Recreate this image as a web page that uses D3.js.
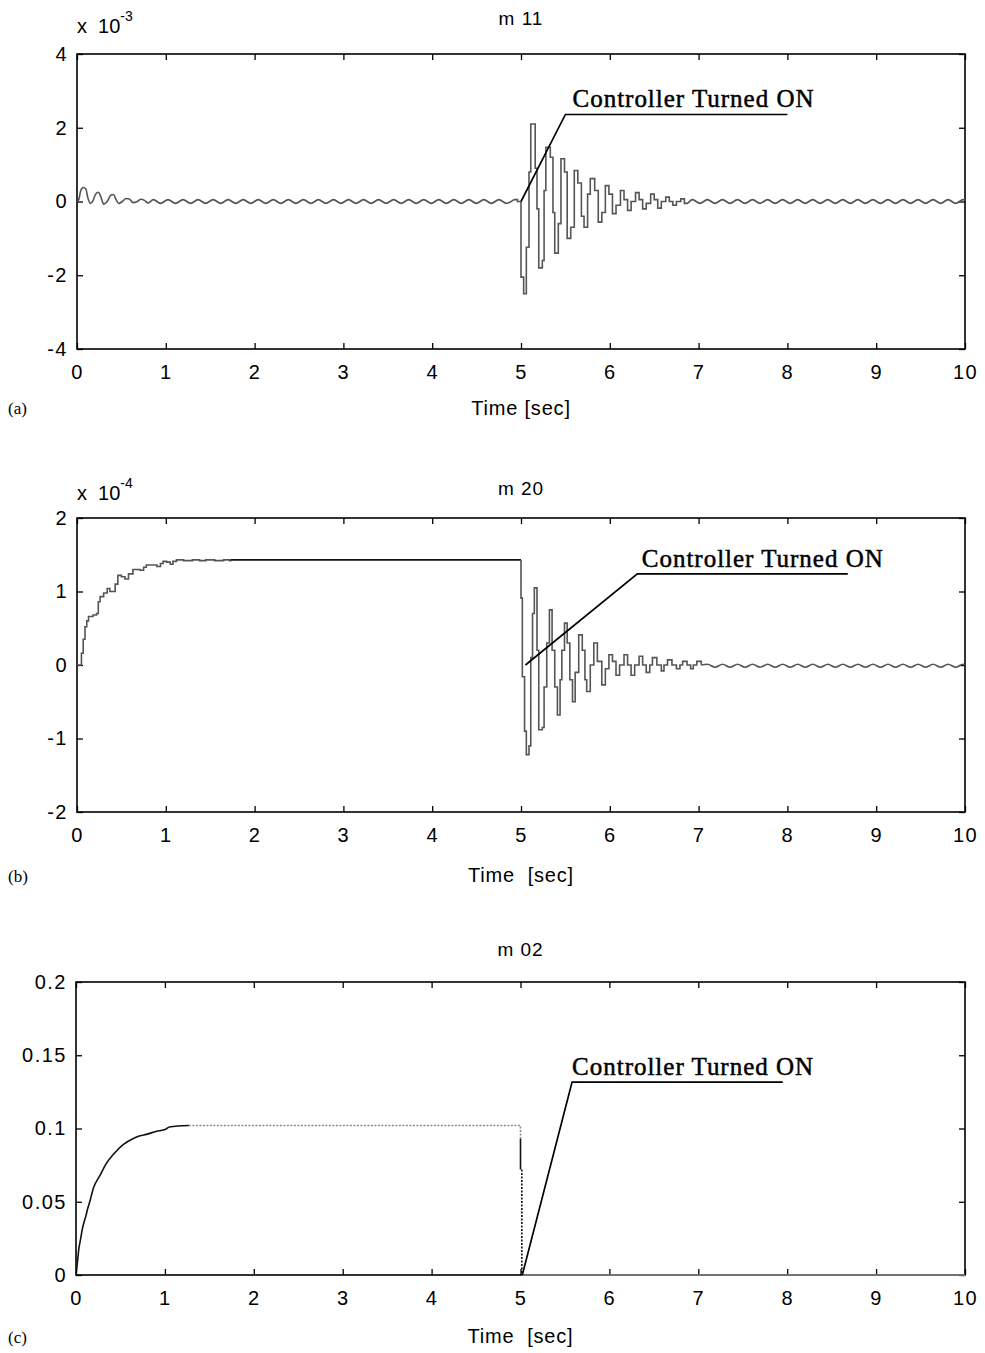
<!DOCTYPE html>
<html>
<head>
<meta charset="utf-8">
<script src="https://cdn.jsdelivr.net/npm/d3@7"></script>
<style>
body { margin: 0; background: #fff; }
text { font-family: "Liberation Sans", Arial, sans-serif; fill: #000; }
.serif { font-family: "Liberation Serif", "Times New Roman", serif; }
</style>
</head>
<body>
<svg id="chart" width="985" height="1353"></svg>
<script>
// tick values
var timeTicks = [0, 1, 2, 3, 4, 5, 6, 7, 8, 9, 10];
var m11Ticks = [-4, -2, 0, 2, 4];
var m20Ticks = [-2, -1, 0, 1, 2];
var m02Ticks = [0, 0.05, 0.1, 0.15, 0.2];
var m02TickLabels = ['0', '0.05', '0.1', '0.15', '0.2'];

// half period of the small ripple, seconds
var rippleStep = 0.0847;

// m11, units of 1e-3
var m11Start = [[0,0],[0.02,0.05],[0.04,0.28],[0.07,0.38],[0.1,0.34],[0.12,0.12],[0.15,-0.05],[0.18,0.02],
  [0.21,0.2],[0.24,0.25],[0.27,0.12],[0.3,-0.07],[0.34,0],[0.38,0.17],[0.41,0.19],[0.44,0.05],[0.47,-0.05],
  [0.51,0],[0.55,0.08],[0.59,0.07],[0.63,-0.03],[0.68,0],[0.72,0.06],[0.76,0.03],[0.8,-0.04],[0.86,0.05]];
var m11RippleBefore = [-0.05,0.05,-0.05,0.05,-0.05,0.05,-0.05,0.05,-0.05,0.05,-0.05,0.05,-0.05,0.05,-0.05,0.05,
  -0.05,0.05,-0.05,0.05,-0.05,0.05,-0.05,0.05,-0.05,0.05,-0.05,0.05,-0.05,0.05,-0.05,0.05,-0.05,0.05,-0.05,0.05,
  -0.05,0.05,-0.05,0.05,-0.05,0.05,-0.05,0.05,-0.05,0.05,-0.05,0.05];
var m11Burst = [[4.92,0.05],[4.96,0],[5,-2.05],[5.03,-2.5],[5.06,-1.24],[5.09,0.8],[5.11,2.1],[5.16,0.9],
  [5.18,-0.2],[5.2,-1.8],[5.24,-1.6],[5.26,0.3],[5.28,1.47],[5.33,1.2],[5.36,-0.3],[5.38,-1.4],[5.42,-0.6],
  [5.45,1.16],[5.49,0.8],[5.52,-1],[5.56,-0.7],[5.6,0.84],[5.64,0.5],[5.68,-0.4],[5.71,-0.7],[5.75,0.2],
  [5.78,0.62],[5.83,0.3],[5.87,-0.56],[5.91,-0.3],[5.95,0.43],[5.99,0.2],[6.03,-0.33],[6.07,-0.1],[6.12,0.3],
  [6.16,0.05],[6.2,-0.24],[6.24,0],[6.29,0.24],[6.33,0.05],[6.37,-0.2],[6.41,-0.05],[6.46,0.2],[6.5,0.05],
  [6.54,-0.18],[6.58,0],[6.63,0.12],[6.67,0],[6.71,-0.1],[6.75,0],[6.8,0.07],[6.84,-0.05],[6.88,-0.05]];
var m11RippleAfter = [0.05,-0.05,0.05,-0.05,0.05,-0.05,0.05,-0.05,0.05,-0.05,0.05,-0.05,0.05,-0.05,0.05,-0.05,
  0.05,-0.05,0.05,-0.05,0.05,-0.05,0.05,-0.05,0.05,-0.05,0.05,-0.05,0.05,-0.05,0.05,-0.05,0.05,-0.05,0.05,-0.05,
  0.05,-0.05];

// m20, units of 1e-4
var m20Rise = [[0,0],[0.03,0],[0.05,0.16],[0.07,0.35],[0.09,0.52],[0.11,0.6],[0.13,0.66],[0.18,0.68],[0.22,0.7],
  [0.24,0.86],[0.26,0.93],[0.3,0.98],[0.34,1.04],[0.37,1],[0.4,1],[0.43,1.1],[0.46,1.22],[0.5,1.2],[0.54,1.17],
  [0.58,1.24],[0.63,1.3],[0.67,1.3],[0.71,1.29],[0.75,1.33],[0.78,1.36],[0.84,1.36],[0.9,1.34],[0.94,1.38],
  [0.97,1.41],[1.01,1.4],[1.05,1.37],[1.08,1.41],[1.12,1.43],[1.2,1.42],[1.3,1.43],[1.38,1.42],[1.45,1.43],
  [1.55,1.42],[1.65,1.43],[1.72,1.42],[1.73,1.43]];
var m20Flat = [[1.73,1.43],[5,1.43]];
var m20Burst = [[5,1.43],[5,0.91],[5.015,-0.16],[5.04,-0.9],[5.06,-1.22],[5.09,-1.1],[5.11,0.1],[5.13,0.7],
  [5.15,1.05],[5.18,0.2],[5.2,-0.88],[5.24,-0.85],[5.26,-0.3],[5.29,0.3],[5.32,0.75],[5.35,0.2],[5.38,-0.3],
  [5.41,-0.68],[5.44,-0.2],[5.46,0.2],[5.49,0.57],[5.52,0.3],[5.55,-0.2],[5.58,-0.5],[5.61,-0.1],[5.65,0.41],
  [5.69,0.2],[5.72,-0.2],[5.74,-0.36],[5.78,0],[5.82,0.3],[5.86,0.05],[5.91,-0.27],[5.95,-0.05],[5.99,0.14],
  [6.03,0.05],[6.07,-0.14],[6.11,0],[6.16,0.14],[6.2,0],[6.24,-0.14],[6.28,0],[6.33,0.12],[6.37,0],[6.41,-0.1],
  [6.45,0],[6.48,0.1],[6.53,0],[6.58,-0.08],[6.61,0],[6.65,0.07],[6.7,0],[6.75,-0.05],[6.79,0],[6.82,0.05],
  [6.87,0],[6.91,-0.05],[6.94,0],[6.98,0.05],[7.03,0]];
var m20RippleAfter = [0.01,-0.03,0.01,-0.03,0.01,-0.03,0.01,-0.03,0.01,-0.03,0.01,-0.03,0.01,-0.03,0.01,-0.03,
  0.01,-0.03,0.01,-0.03,0.01,-0.03,0.01,-0.03,0.01,-0.03,0.01,-0.03,0.01,-0.03,0.01,-0.03,0.01,-0.03,0.01,-0.03];

// m02
var m02Rise = [[0,0],[0.015,0.008],[0.03,0.017],[0.05,0.024],[0.07,0.031],[0.09,0.036],[0.11,0.04],[0.13,0.045],
  [0.15,0.049],[0.2,0.06],[0.27,0.068],[0.34,0.076],[0.43,0.083],[0.53,0.089],[0.64,0.093],[0.72,0.095],
  [0.79,0.096],[0.9,0.098],[1.01,0.0995],[1.05,0.101],[1.27,0.102]];
var m02Hold = [[1.27,0.102],[5,0.102],[5,0.093]];
var m02Drop = [[5,0.093],[5,0.072]];
var m02Fall = [[5.015,0.072],[5.015,0]];
var m02Zero = [[5.015,0],[10,0]];

function ripple(values, t0) {
  return values.map(function(v, i) { return [t0 + i * rippleStep, v]; });
}

var GRAY = '#555', LIGHT = '#8a8a8a', DARK = '#111';

var panels = [
  {
    title: 'm 11', tag: '(a)', exponent: '-3', xlabel: 'Time [sec]',
    left: 77, right: 965, top: 54, bottom: 349,
    yDomain: [-4, 4], yTicks: m11Ticks,
    titleY: 25, expY: 33, xlabelY: 415, tagY: 414,
    series: [
      { data: m11Start.concat(ripple(m11RippleBefore, 0.94)), curve: d3.curveMonotoneX, color: GRAY },
      { data: m11Burst, curve: d3.curveStepAfter, color: GRAY },
      { data: [[6.88,-0.05]].concat(ripple(m11RippleAfter, 6.93)), curve: d3.curveMonotoneX, color: GRAY }
    ],
    note: { from: [5, 0], to: [5.5, 2.36], end: [8, 2.36], text: [5.58, 2.55] }
  },
  {
    title: 'm 20', tag: '(b)', exponent: '-4', xlabel: 'Time  [sec]',
    left: 77, right: 965, top: 518, bottom: 812,
    yDomain: [-2, 2], yTicks: m20Ticks,
    titleY: 495, expY: 500, xlabelY: 882, tagY: 882,
    series: [
      { data: m20Rise, curve: d3.curveStepAfter, color: GRAY },
      { data: m20Flat, color: DARK },
      { data: m20Burst, curve: d3.curveStepAfter, color: GRAY },
      { data: [[7.03,0]].concat(ripple(m20RippleAfter, 7.1)), curve: d3.curveMonotoneX, color: GRAY }
    ],
    note: { from: [5.05, 0], to: [6.31, 1.24], end: [8.68, 1.24], text: [6.36, 1.34] }
  },
  {
    title: 'm 02', tag: '(c)', xlabel: 'Time  [sec]',
    left: 76, right: 965, top: 982, bottom: 1275,
    yDomain: [0, 0.2], yTicks: m02Ticks, yLabels: m02TickLabels,
    titleY: 956, xlabelY: 1343, tagY: 1343,
    series: [
      { data: m02Rise, curve: d3.curveMonotoneX, color: DARK },
      { data: m02Hold, color: LIGHT, dash: '2,1.5' },
      { data: m02Drop, color: DARK },
      { data: m02Fall, color: DARK, dash: '2,1.5' },
      { data: m02Zero, color: LIGHT }
    ],
    note: { from: [5.02, 0], to: [5.58, 0.1317], end: [7.95, 0.1317], text: [5.58, 0.1365] }
  }
];

var svg = d3.select('#chart');

function drawPanel(p, idx) {
  var x = d3.scaleLinear().domain([0, 10]).range([p.left, p.right]);
  var y = d3.scaleLinear().domain(p.yDomain).range([p.bottom, p.top]);
  var g = svg.append('g');
  var w = p.right - p.left, h = p.bottom - p.top;

  g.append('clipPath').attr('id', 'clip' + idx)
    .append('rect').attr('x', p.left).attr('y', p.top - 2).attr('width', w).attr('height', h + 4);

  // frame + inward ticks on all four sides
  g.append('rect').attr('x', p.left).attr('y', p.top).attr('width', w).attr('height', h)
    .attr('fill', 'none').attr('stroke', '#000').attr('stroke-width', 1.6);

  g.append('g').attr('transform', 'translate(0,' + p.bottom + ')')
    .call(d3.axisBottom(x).tickValues(timeTicks).tickSize(-6).tickPadding(16).tickFormat(d3.format('d')));
  g.append('g').attr('transform', 'translate(0,' + p.top + ')')
    .call(d3.axisTop(x).tickValues(timeTicks).tickSize(-6).tickFormat(''));
  g.append('g').attr('transform', 'translate(' + p.left + ',0)')
    .call(d3.axisLeft(y).tickValues(p.yTicks).tickSize(-6).tickPadding(9)
      .tickFormat(function(d, i) { return p.yLabels ? p.yLabels[i] : d; }));
  g.append('g').attr('transform', 'translate(' + p.right + ',0)')
    .call(d3.axisRight(y).tickValues(p.yTicks).tickSize(-6).tickFormat(''));

  g.selectAll('.domain').remove();
  g.selectAll('.tick line').attr('stroke', '#000').attr('stroke-width', 1.3);
  g.selectAll('.tick text').style('font-family', '"Liberation Sans", Arial, sans-serif')
    .style('font-size', '20px').style('letter-spacing', '1.5px');

  // curves
  var lines = g.append('g').attr('clip-path', 'url(#clip' + idx + ')');
  p.series.forEach(function(s) {
    var line = d3.line()
      .x(function(d) { return x(d[0]); })
      .y(function(d) { return y(d[1]); })
      .curve(s.curve || d3.curveLinear);
    lines.append('path').datum(s.data).attr('d', line)
      .attr('fill', 'none').attr('stroke', s.color).attr('stroke-width', 1.6)
      .attr('stroke-dasharray', s.dash || null);
  });

  // annotation
  var n = p.note;
  g.append('path')
    .attr('d', d3.line()([[x(n.from[0]), y(n.from[1])], [x(n.to[0]), y(n.to[1])], [x(n.end[0]), y(n.end[1])]]))
    .attr('fill', 'none').attr('stroke', '#000').attr('stroke-width', 1.7);
  g.append('text').attr('class', 'serif')
    .attr('x', x(n.text[0])).attr('y', y(n.text[1]))
    .attr('textLength', 241).attr('lengthAdjust', 'spacing')
    .style('font-size', '25px').style('stroke', '#000').style('stroke-width', 0.5)
    .text('Controller Turned ON');

  // labels
  var mid = (p.left + p.right) / 2;
  g.append('text').attr('x', mid).attr('y', p.titleY).attr('text-anchor', 'middle')
    .style('font-size', '19px').style('white-space', 'pre').style('letter-spacing', '1px').text(p.title);
  g.append('text').attr('x', mid).attr('y', p.xlabelY).attr('text-anchor', 'middle')
    .style('font-size', '20px').style('white-space', 'pre').style('letter-spacing', '0.8px').text(p.xlabel);
  g.append('text').attr('class', 'serif').attr('x', 8).attr('y', p.tagY)
    .style('font-size', '17px').text(p.tag);

  if (p.exponent) {
    var e = g.append('text').attr('x', p.left).attr('y', p.expY).style('font-size', '20px');
    e.append('tspan').style('white-space', 'pre').text('x  10');
    e.append('tspan').attr('dy', -12).style('font-size', '14px').text(p.exponent);
  }
}

panels.forEach(drawPanel);
</script>
</body>
</html>
